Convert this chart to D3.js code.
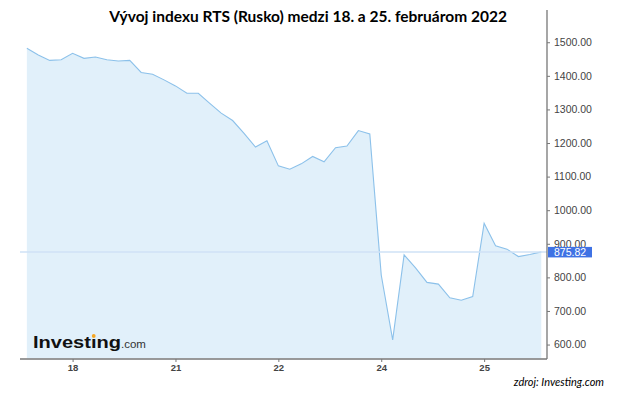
<!DOCTYPE html>
<html>
<head>
<meta charset="utf-8">
<script src="https://cdnjs.cloudflare.com/ajax/libs/d3/7.8.5/d3.min.js"></script>
<style>
  body { margin: 0; background: #fff; }
  svg { display: block; }
</style>
</head>
<body>
<div id="chart-area"></div>
<script>
// hourly closes, 9 slots per trading day (23 Feb = holiday, no trading)
var dayTicks = ["18", "21", "22", "24", "25"];
var feb17 = [1482, 1462, 1446, 1448]; // last 4 hours only
var feb18 = [1467, 1452, 1456, 1448, 1444, 1446, 1410, 1405, 1388];
var feb21 = [1370, 1348, 1348, 1318, 1289, 1267, 1229, 1188, 1207];
var feb22 = [1132, 1122, 1138, 1160, 1144, 1186, 1191, 1237, 1227];
var feb24 = [807, 614, 867, 828, 785, 780, 739, 732, 743];
var feb25 = [961, 894, 884, 862, 868, 875.82];
var lastPrice = 875.82;
var yTicks = [600, 700, 800, 900, 1000, 1100, 1200, 1300, 1400, 1500];

var width = 620, height = 399;
var slotsPerDay = 9;

var dataset = [];
feb17.forEach(function(v, i) { dataset.push({ x: i - feb17.length, value: v }); });
[feb18, feb21, feb22, feb24, feb25].forEach(function(day, d) {
    day.forEach(function(v, i) {
        dataset.push({ x: d * slotsPerDay + i, value: v });
    });
});

var xScale = d3.scaleLinear().domain([-4.6, 41.5]).range([20, 547]);
var yScale = d3.scaleLinear().domain([557, 1596]).range([359, 10]);

var svg = d3.select("#chart-area").append("svg")
    .attr("width", width)
    .attr("height", height);

// area + line
var area = d3.area()
    .x(function(d) { return xScale(d.x); })
    .y0(yScale(559))
    .y1(function(d) { return yScale(d.value); });

var line = d3.line()
    .x(function(d) { return xScale(d.x); })
    .y(function(d) { return yScale(d.value); });

svg.append("path")
    .datum(dataset)
    .attr("d", area)
    .style("fill", "#e1f0fa");

svg.append("path")
    .datum(dataset)
    .attr("d", line)
    .style("fill", "none")
    .style("stroke", "#8cc1ea")
    .style("stroke-width", 1.1);

// current price line
svg.append("line")
    .attr("x1", 20)
    .attr("x2", 547)
    .attr("y1", yScale(lastPrice))
    .attr("y2", yScale(lastPrice))
    .style("stroke", "#cfe2f6")
    .style("stroke-width", 1.5);

// investing.com logo
var logo = svg.append("text")
    .attr("x", 33)
    .attr("y", 348)
    .style("font-family", "Liberation Sans, Arial, sans-serif")
    .style("font-weight", "bold")
    .style("font-size", "17px")
    .style("fill", "#111");
logo.append("tspan")
    .attr("textLength", 88)
    .attr("lengthAdjust", "spacingAndGlyphs")
    .text("Investıng");
logo.append("tspan")
    .style("font-weight", "normal")
    .style("font-size", "11.5px")
    .style("fill", "#333")
    .text(".com");
var box = logo.node().getExtentOfChar(6);
svg.append("circle")
    .attr("cx", box.x + box.width / 2)
    .attr("cy", 336)
    .attr("r", 1.9)
    .style("fill", "#f5a623");

// y axis on the right
var yAxis = d3.axisRight(yScale)
    .tickValues(yTicks)
    .tickSize(3)
    .tickPadding(4)
    .tickFormat(d3.format(".2f"));

var gy = svg.append("g")
    .attr("transform", "translate(547,0)")
    .call(yAxis);
gy.select(".domain").remove();
gy.selectAll("line").style("stroke", "#777");
gy.selectAll("text")
    .style("font-family", "Liberation Sans, Arial, sans-serif")
    .style("font-size", "10.5px")
    .style("fill", "#444");

svg.append("line")
    .attr("x1", 547).attr("x2", 547)
    .attr("y1", 10).attr("y2", 359)
    .style("stroke", "#777")
    .style("stroke-width", 1.3);

// x axis
var xAxis = d3.axisBottom(xScale)
    .tickValues([0, 9, 18, 27, 36])
    .tickSize(3)
    .tickPadding(2)
    .tickFormat(function(d, i) { return dayTicks[i]; });

var gx = svg.append("g")
    .attr("transform", "translate(0,359)")
    .call(xAxis);
gx.select(".domain").remove();
gx.selectAll("line").style("stroke", "#777");
gx.selectAll("text")
    .style("font-family", "Liberation Sans, Arial, sans-serif")
    .style("font-weight", "bold")
    .style("font-size", "9.5px")
    .style("fill", "#444");

svg.append("line")
    .attr("x1", 20).attr("x2", 547)
    .attr("y1", 359).attr("y2", 359)
    .style("stroke", "#777")
    .style("stroke-width", 1.3);

// last price label
svg.append("rect")
    .attr("x", 548)
    .attr("y", yScale(lastPrice) - 5)
    .attr("width", 44)
    .attr("height", 10.5)
    .style("fill", "#3f72e4");

svg.append("text")
    .attr("x", 554)
    .attr("y", yScale(lastPrice) + 4)
    .style("font-family", "Liberation Sans, Arial, sans-serif")
    .style("font-size", "10.5px")
    .style("fill", "#fff")
    .text(d3.format(".2f")(lastPrice));

// title + source
svg.append("text")
    .attr("x", 308)
    .attr("y", 22)
    .attr("text-anchor", "middle")
    .style("font-family", "Lato, sans-serif")
    .style("font-weight", "bold")
    .style("font-size", "15.5px")
    .style("fill", "#000")
    .text("Vývoj indexu RTS (Rusko) medzi 18. a 25. februárom 2022");

svg.append("text")
    .attr("x", 604)
    .attr("y", 386)
    .attr("text-anchor", "end")
    .style("font-family", "Lato, sans-serif")
    .style("font-style", "italic")
    .style("font-size", "11px")
    .style("fill", "#000")
    .text("zdroj: Investing.com");
</script>
</body>
</html>
